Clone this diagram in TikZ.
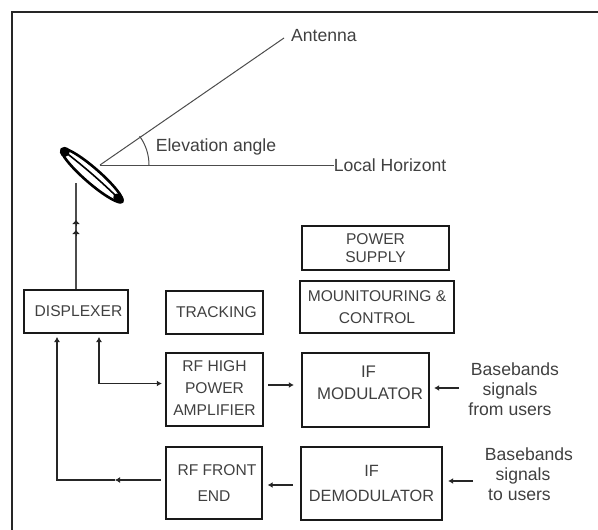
\documentclass[tikz,border=0pt]{standalone}
\usepackage{fontspec}
\setmainfont{Liberation Sans}
\usetikzlibrary{arrows.meta}
\tikzset{
	Block/.style={draw=black!90,line width=2.4pt,inner sep=0pt,align=center,text=black!75,font=\fontsize{15.6}{22}\selectfont},
	Label/.style={inner sep=0pt,align=center,text=black!75,font=\fontsize{17.6}{20}\selectfont},
	Wire/.style={black!85,line width=1.2pt,-{Latex[length=5pt,width=6pt]}},
	Line/.style={black!70,line width=1pt},
	Tip/.style={black!85,line width=1pt,-{Latex[length=4pt,width=8pt]}}
}
\tikzset{
	Dish/.pic={
        code={
\draw[black,line width=2.6pt] (0,0) ellipse (40pt and 7.5pt);
\draw[black,line width=1.6pt] (-38,0) to[bend left=3] (38,0);
\fill[black] (-36,0) ellipse (5pt and 5pt);
\fill[black] (35,0) ellipse (6pt and 4pt);
							}
	}
}
\begin{document}
\begin{tikzpicture}[x=1pt,y=-1pt]
\useasboundingbox (0,0) rectangle (598,530);
\draw[black!85,line width=1.6pt] (12,530)--(12,12)--(598,12);
\path (92,175.5) pic[rotate=-41] {Dish};

%Blocks
\node[Block,minimum width=104pt,minimum height=43pt] (displexer) at (76,311.5) {\hspace*{5pt}DISPLEXER};
\node[Block,minimum width=97pt,minimum height=43pt] (tracking) at (214.5,312.5) {\hspace*{4pt}TRACKING};
\node[Block,minimum width=97pt,minimum height=73pt] (rfhigh) at (214.5,389.5) {\mbox{}\\[-15pt]RF HIGH\\POWER\\AMPLIFIER};
\node[Block,minimum width=96pt,minimum height=72pt] (rffront) at (214,483) {\hspace*{6pt}RF FRONT\\[4pt]END};
\node[Block,minimum width=147pt,minimum height=44pt] (power) at (375.5,248) {POWER\\[-4pt]SUPPLY};
\node[Block,minimum width=154pt,minimum height=52pt] (mon) at (377,307) {MOUNITOURING \&\\CONTROL};
\node[Block,minimum width=127pt,minimum height=74pt,font=\fontsize{16.8}{22}\selectfont] (ifmod) at (365.5,390) {\hspace*{6pt}IF\\\hspace*{9pt}MODULATOR\\[-7pt]\mbox{}};
\node[Block,minimum width=141pt,minimum height=73pt,font=\fontsize{16.3}{22}\selectfont] (ifdem) at (371.5,483.5) {IF\\[3pt]DEMODULATOR};

%Texts
\node[Label] (antenna) at (324,36) {Antenna};
\node[Label] (elev) at (216,147) {Elevation angle};
\node[Label] (horiz) at (390,165) {Local Horizont};
\node[Label] (bbup) at (510,389.5) {\hspace*{10pt}Basebands\\signals\hspace*{14pt}\\from users};
\node[Label] (bbdn) at (523,474.5) {\hspace*{12pt}Basebands\\signals\\to users\hspace*{7pt}};

%Antenna lines
\coordinate (focus) at (100,165);
\coordinate (antennatip) at (284,38);
\coordinate (feed) at (76,183);
\draw[Line] (focus) -- (antennatip);
\draw[Line] (focus) -- (horiz.west);
\draw[Line] (149,165) arc (0:36:49pt);

%Connectors
\coordinate (tiptop) at (76,220);
\coordinate (tiplow) at (76,230);
\draw[Line,line width=1.3pt] (feed) -- (displexer.north);
\draw[Tip] (76,226) -- (tiptop);
\draw[Tip] (76,236) -- (tiplow);
\coordinate (up1) at (57,333);
\coordinate (up2) at (99,333);
\coordinate (bend1) at (57,480);
\coordinate (bend2) at (99,383.5);
\coordinate (midfront) at (115,480);
\draw[Wire,shorten <=4pt] (rffront.west |- bend1) -- (midfront);
\draw[Wire,shorten >=4pt] (midfront) -- (bend1) -- (up1);
\draw[Wire,{Latex[length=5pt,width=6pt]}-{Latex[length=5pt,width=6pt]},shorten <=4pt,shorten >=3pt] (up2) -- (bend2) -- (rfhigh.west |- bend2);
\coordinate (mid1) at (268,385);
\draw[Wire,shorten >=7pt] (mid1) -- (ifmod.west |- mid1);
\coordinate (in1) at (459,388);
\draw[Wire,shorten >=4pt] (in1) -- (ifmod.east |- in1);
\coordinate (mid2) at (293,485);
\draw[Wire,shorten >=4.5pt] (mid2) -- (rffront.east |- mid2);
\coordinate (in2) at (473,481);
\draw[Wire,shorten >=5pt] (in2) -- (ifdem.east |- in2);
\end{tikzpicture}
\end{document}
